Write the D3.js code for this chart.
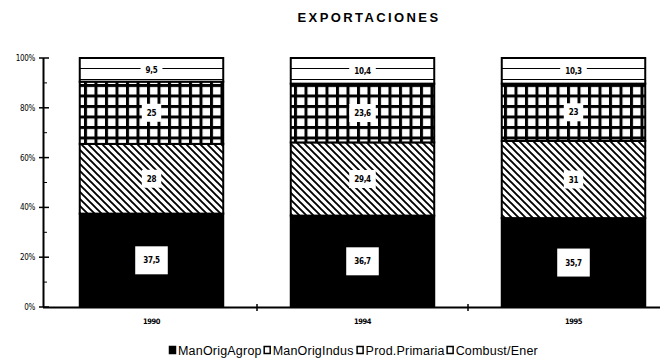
<!DOCTYPE html>
<html>
<head>
<meta charset="utf-8">
<script src="https://cdn.jsdelivr.net/npm/d3@7"></script>
<style>
  body { margin: 0; background: #fff; }
  svg { display: block; }
</style>
</head>
<body>
<div id="chart"></div>
<script>
// Exportaciones por rubro (% del total)
const years = ['1990', '1994', '1995'];
const series = ['ManOrigAgrop', 'ManOrigIndus', 'Prod.Primaria', 'Combust/Ener'];
const manOrigAgrop = [37.5, 36.7, 35.7];
const manOrigIndus = [28, 29.4, 31];
const prodPrimaria = [25, 23.6, 23];
const combustEner = [9.5, 10.4, 10.3];
const labels = [
  ['37,5', '36,7', '35,7'],
  ['28', '29,4', '31'],
  ['25', '23,6', '23'],
  ['9,5', '10,4', '10,3']
];
const yTicks = [0, 20, 40, 60, 80, 100];

const W = 666, H = 360;
const svg = d3.select('#chart').append('svg')
  .attr('width', W)
  .attr('height', H);

// patterns
const defs = svg.append('defs');
const hatch = defs.append('pattern')
  .attr('id', 'hatch')
  .attr('patternUnits', 'userSpaceOnUse')
  .attr('width', 7).attr('height', 7);
hatch.append('rect').attr('width', 7).attr('height', 7).attr('fill', '#fff');
hatch.append('path')
  .attr('d', 'M-1,-1 L8,8 M-1,6 L1,8 M6,-1 L8,1')
  .attr('stroke', '#000').attr('stroke-width', 1.9);

const grid = defs.append('pattern')
  .attr('id', 'grid')
  .attr('patternUnits', 'userSpaceOnUse')
  .attr('width', 10.5).attr('height', 10.5);
grid.append('rect').attr('width', 10.5).attr('height', 10.5).attr('fill', '#000');
grid.append('rect').attr('x', 3).attr('y', 3).attr('width', 7.5).attr('height', 7.5).attr('fill', '#fff');

const hlines = defs.append('pattern')
  .attr('id', 'hlines')
  .attr('patternUnits', 'userSpaceOnUse')
  .attr('y', 58)
  .attr('width', 10).attr('height', 11);
hlines.append('rect').attr('width', 10).attr('height', 11).attr('fill', '#fff');
hlines.append('rect').attr('y', 10).attr('width', 10).attr('height', 2).attr('fill', '#000');

const fills = ['#000', 'url(#hatch)', 'url(#grid)', 'url(#hlines)'];

// scales
const x = d3.scaleBand()
  .domain(years)
  .range([46, 679])
  .paddingInner(0.32)
  .paddingOuter(0.16);

const y = d3.scaleLinear()
  .domain([0, 100])
  .range([307, 58])
  .clamp(true);

const rows = years.map((yr, i) => ({
  year: yr,
  ManOrigAgrop: manOrigAgrop[i],
  ManOrigIndus: manOrigIndus[i],
  'Prod.Primaria': prodPrimaria[i],
  'Combust/Ener': combustEner[i]
}));

const stacked = d3.stack().keys(series)(rows);

// title
svg.append('text')
  .attr('x', 369)
  .attr('y', 22)
  .attr('text-anchor', 'middle')
  .attr('font-family', 'Liberation Sans, Arial, sans-serif')
  .attr('font-weight', 'bold')
  .attr('font-size', 13)
  .attr('letter-spacing', 2.4)
  .text('EXPORTACIONES');

// bars
const layer = svg.selectAll('g.layer')
  .data(stacked)
  .join('g')
  .attr('class', 'layer');

layer.selectAll('rect')
  .data((d, si) => d.map(v => ({ v, si })))
  .join('rect')
  .attr('x', d => x(d.v.data.year))
  .attr('y', d => y(d.v[1]))
  .attr('width', x.bandwidth())
  .attr('height', d => y(d.v[0]) - y(d.v[1]))
  .attr('fill', d => fills[d.si])
  .attr('stroke', '#000')
  .attr('stroke-width', 2);

// value labels in white boxes
layer.each(function (s, si) {
  const g = d3.select(this);
  s.forEach((v, i) => {
    const cx = x(v.data.year) + x.bandwidth() / 2;
    const cy = (y(v[0]) + y(v[1])) / 2;
    const t = labels[si][i];
    const lg = g.append('g');
    const txt = lg.append('text')
      .attr('x', cx)
      .attr('y', cy + 3)
      .attr('text-anchor', 'middle')
      .attr('font-family', 'DejaVu Sans Condensed, DejaVu Sans, sans-serif')
      .attr('font-weight', 'bold')
      .attr('font-size', 8)
      .attr('letter-spacing', -0.3)
      .text(t);
    const w = txt.node().getComputedTextLength();
    const bw = si === 0 ? w + 16 : w + 10;
    const bh = si === 0 ? 28 : (si === 3 ? 8 : 18);
    lg.insert('rect', 'text')
      .attr('x', cx - bw / 2)
      .attr('y', cy - bh / 2)
      .attr('width', bw)
      .attr('height', bh)
      .attr('fill', '#fff');
  });
});

// y axis
const yAxis = svg.append('g');
yAxis.append('line')
  .attr('x1', 43.5).attr('x2', 43.5)
  .attr('y1', y(100)).attr('y2', y(0))
  .attr('stroke', '#000').attr('stroke-width', 2);
yAxis.selectAll('line.tick')
  .data(yTicks)
  .join('line')
  .attr('class', 'tick')
  .attr('x1', 39).attr('x2', 49)
  .attr('y1', d => y(d)).attr('y2', d => y(d))
  .attr('stroke', '#000').attr('stroke-width', 1.5);
yAxis.selectAll('line.minor')
  .data(d3.range(10, 100, 20))
  .join('line')
  .attr('class', 'minor')
  .attr('x1', 43).attr('x2', 47)
  .attr('y1', d => y(d)).attr('y2', d => y(d))
  .attr('stroke', '#000').attr('stroke-width', 1);
yAxis.selectAll('text')
  .data(yTicks)
  .join('text')
  .attr('x', 35)
  .attr('y', d => y(d) + 3)
  .attr('text-anchor', 'end')
  .attr('font-family', 'DejaVu Sans Condensed, DejaVu Sans, sans-serif')
  .attr('font-size', 8)
  .attr('letter-spacing', -0.3)
  .text(d => d + '%');

// x axis
const xAxis = svg.append('g');
xAxis.append('line')
  .attr('x1', 43).attr('x2', 660)
  .attr('y1', 307.5).attr('y2', 307.5)
  .attr('stroke', '#000').attr('stroke-width', 2);
xAxis.selectAll('line.tick')
  .data(years.slice(1))
  .join('line')
  .attr('class', 'tick')
  .attr('x1', d => x(d) - x.step() * x.paddingInner() / 2)
  .attr('x2', d => x(d) - x.step() * x.paddingInner() / 2)
  .attr('y1', 304).attr('y2', 311)
  .attr('stroke', '#000').attr('stroke-width', 1.5);
xAxis.selectAll('text')
  .data(years)
  .join('text')
  .attr('x', d => x(d) + x.bandwidth() / 2)
  .attr('y', 324)
  .attr('text-anchor', 'middle')
  .attr('font-family', 'DejaVu Sans Condensed, DejaVu Sans, sans-serif')
  .attr('font-weight', 'bold')
  .attr('font-size', 7.5)
  .attr('letter-spacing', -0.4)
  .text(d => d);

// legend
const legend = svg.append('g');
let lx = 169;
series.forEach((s, i) => {
  legend.append('rect')
    .attr('x', lx + 0.5)
    .attr('y', 346.5)
    .attr('width', 6)
    .attr('height', 7)
    .attr('fill', i === 0 ? '#000' : '#fff')
    .attr('stroke', '#000')
    .attr('stroke-width', 1.5);
  const t = legend.append('text')
    .attr('x', lx + 9)
    .attr('y', 354.5)
    .attr('font-family', 'Liberation Sans, Arial, sans-serif')
    .attr('font-size', 12.5)
    .attr('letter-spacing', 0.2)
    .text(s);
  lx += 9 + t.node().getComputedTextLength() + (i === 1 ? 3 : 2);
});
</script>
</body>
</html>
